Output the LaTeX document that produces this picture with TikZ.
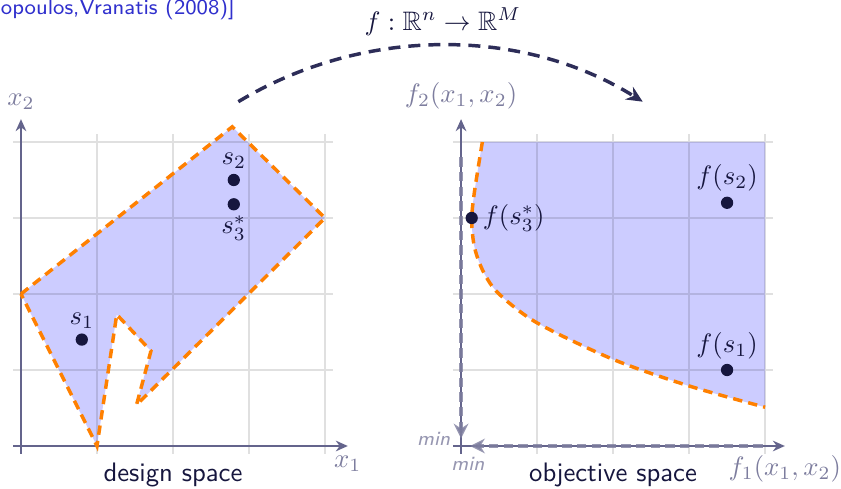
\documentclass[tikz,border=0pt]{standalone}
\usepackage{amsmath,amssymb,amsfonts}
\usepackage{xcolor}
\usepackage{tikz}
\usetikzlibrary{arrows.meta,positioning}

\definecolor{navy}{RGB}{22,22,62}
\definecolor{mapnavy}{RGB}{45,45,88}
\definecolor{axisgray}{RGB}{100,100,140}
\definecolor{labelgray}{RGB}{125,125,158}
\definecolor{citeblue}{RGB}{48,48,205}

\begin{document}
\begin{tikzpicture}[
        x=1cm, y=1cm,
        gridline/.style={black, opacity=0.12, line width=0.5pt},
        axis/.style={-{Stealth[length=4.5pt,width=4pt]}, axisgray, line width=0.6pt},
        axislabel/.style={labelgray},
        region/.style={fill=blue!20},
        border/.style={orange, line width=1.3pt, dash pattern=on 3.5pt off 2.3pt},
        dot/.style={circle, fill=navy, inner sep=0pt, minimum size=4.6pt},
        pointlabel/.style={navy, inner sep=1.5pt},
        caption/.style={navy, font=\sffamily},
        minlabel/.style={labelgray, opacity=0.8, font=\sffamily\itshape\fontsize{7.5}{9}\selectfont},
        minarrow/.style={-{Stealth[length=5.5pt,width=5.5pt]}, labelgray, opacity=0.8, line width=1.2pt, dash pattern=on 3.5pt off 2pt},
        maparrow/.style={-{Stealth[length=6pt,width=5.5pt]}, mapnavy, line width=1.3pt, dash pattern=on 4.5pt off 3pt}
    ]
    \useasboundingbox (-0.276,-0.553) rectangle (10.789,5.868);

    % Citation
    \node[citeblue, font=\sffamily\footnotesize, anchor=base west, inner sep=0pt] (cite) at (-0.27,5.675) {opoulos,Vranatis (2008)]};

    % Design space
    \fill[region] (0,2) -- (2.78,4.2) -- (4,3) -- (1.52,0.54) -- (1.71,1.25) -- (1.26,1.73) -- (1,0) -- cycle;
    \draw[gridline] (-0.1,-0.1) grid (4.1,4.1);
    \draw[axis] (-0.1,0) -- (4.3,0) node[below, axislabel] (x1lab) {$x_1$};
    \draw[axis] (0,-0.1) -- (0,4.3) node[above, axislabel] (x2lab) {$x_2$};
    \draw[border] (0,2) -- (2.78,4.2) -- (4,3) -- (1.52,0.54) -- (1.71,1.25) -- (1.26,1.73) -- (1,0) -- cycle;

    \node[dot] (s1) at (0.8,1.4) {};
    \node[dot] (s2) at (2.8,3.5) {};
    \node[dot] (s3) at (2.8,3.18) {};
    \node[pointlabel, above=0pt of s1] (s1lab) {$s_1$};
    \node[pointlabel, above=0pt of s2] (s2lab) {$s_2$};
    \node[pointlabel, below=0pt of s3] (s3lab) {$s_3^*$};

    \node[caption, anchor=base] (design) at (2,-0.465) {design space};

    % Objective space
    \begin{scope}[xshift=5.79cm]
        \fill[region] plot[smooth] coordinates {(0.28,4) (0.17,3.3) (0.14,2.95) (0.18,2.6) (0.3,2.28) (0.5,2.0) (1.0,1.62) (2.0,1.14) (3.0,0.79) (4.0,0.51)} -- (4,4) -- cycle;
        \draw[gridline] (-0.1,-0.1) grid (4.1,4.1);
        \draw[axis] (-0.1,0) -- (4.26,0) node[below, axislabel] (f1lab) {$f_1(x_1,x_2)$};
        \draw[axis] (0,-0.1) -- (0,4.3) node[above, axislabel] (f2lab) {$f_2(x_1,x_2)$};
        \draw[border] plot[smooth] coordinates {(0.28,4) (0.17,3.3) (0.14,2.95) (0.18,2.6) (0.3,2.28) (0.5,2.0) (1.0,1.62) (2.0,1.14) (3.0,0.79) (4.0,0.51)};

        % minimisation directions
        \coordinate (ytop) at (0,3.8);
        \coordinate (ymin) at (0,0.1);
        \coordinate (xright) at (3.97,0);
        \coordinate (xmin) at (0.12,0);
        \draw[minarrow] (ytop) -- (ymin);
        \draw[minarrow] (xright) -- (xmin);
        \node[minlabel] (minleft) at (-0.36,0.09) {min};
        \node[minlabel] (minbelow) at (0.09,-0.24) {min};

        \node[dot] (fs1) at (3.5,1.0) {};
        \node[dot] (fs2) at (3.5,3.2) {};
        \node[dot] (fs3) at (0.14,3.0) {};
        \node[pointlabel, above=0pt of fs1] (fs1lab) {$f(s_1)$};
        \node[pointlabel, above=0pt of fs2] (fs2lab) {$f(s_2)$};
        \node[pointlabel, right=0pt of fs3] (fs3lab) {$f(s_3^*)$};

        \node[caption, anchor=base] (objective) at (2,-0.465) {objective space};
    \end{scope}

    % Mapping
    \coordinate (mapstart) at (2.86,4.53);
    \coordinate (mapend) at (8.18,4.53);
    \draw[maparrow] (mapstart) .. controls (4.5,5.52) and (6.6,5.52) .. (mapend);
    \node[navy] (maplab) at (5.55,5.58) {$f:\mathbb{R}^n\rightarrow\mathbb{R}^M$};
\end{tikzpicture}
\end{document}
